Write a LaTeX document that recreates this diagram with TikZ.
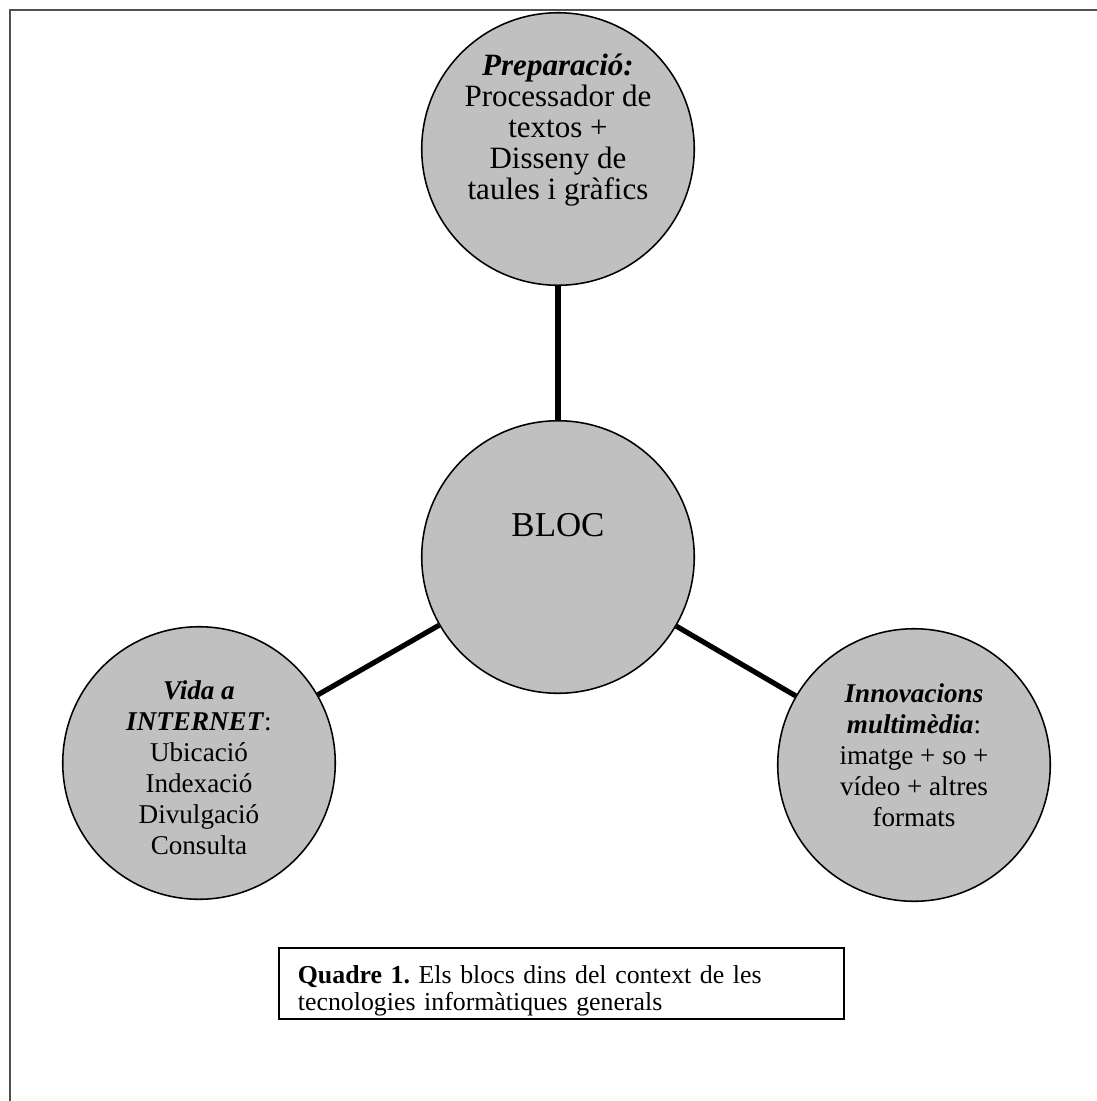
\documentclass[tikz,border=0pt]{standalone}
\usepackage{fontspec}
\setmainfont{Liberation Serif}
\definecolor{blobgray}{HTML}{C0C0C0}
\definecolor{framegray}{HTML}{505050}

\begin{document}
\begin{tikzpicture}[x=0.3871pt, y=-0.3871pt,
   blob/.style={circle, draw=black, line width=0.6pt, fill=blobgray, minimum size=105.5pt, inner sep=0pt},
   blobtext/.style={align=center, font=\fontsize{10.5}{12}\selectfont, inner sep=0pt},
   link/.style={line width=2pt},
   capbox/.style={draw=black, line width=0.6pt, anchor=north west, minimum width=218.7pt, minimum height=27.5pt,
                  text width=203.9pt, inner xsep=7.4pt, inner ysep=0pt, align=left, font=\fontsize{10}{10.5}\selectfont}]
   \useasboundingbox (0,0) rectangle (1097,1101);
   % frame (only top and left are visible)
   \draw[framegray, line width=0.8pt] (10,1101) -- (10,10) -- (1097,10);
   % circles
   \node[blob] (prep) at (558,149) {};
   \node[blob] (bloc) at (558,557) {};
   \node[blob] (vida) at (199,763) {};
   \node[blob] (innov) at (914,765) {};
   % links
   \draw[link] (prep) -- (bloc);
   \draw[link] (bloc) -- (vida);
   \draw[link] (bloc) -- (innov);
   % texts
   \node[blobtext, font=\fontsize{12}{12}\selectfont] (preptxt) at (558,130) {\textbf{\textit{Preparació:}}\\Processador de\\textos +\\Disseny de\\taules i gràfics};
   \node[blobtext, font=\fontsize{13.5}{13.5}\selectfont] (bloctxt) at (558,525) {BLOC};
   \node[blobtext] (vidatxt) at (199,768) {\textbf{\textit{Vida a}}\\\textbf{\textit{INTERNET}}:\\Ubicació\\Indexació\\Divulgació\\Consulta};
   \node[blobtext] (innovtxt) at (914,755) {\textbf{\textit{Innovacions}}\\\textbf{\textit{multimèdia}}:\\imatge + so +\\vídeo + altres\\formats};
   % caption
   \node[capbox] (quadre) at (278,947) {\frenchspacing\rule{0pt}{13pt}\textbf{Quadre 1.} Els blocs dins del context de les\\tecnologies informàtiques generals};
\end{tikzpicture}
\end{document}
